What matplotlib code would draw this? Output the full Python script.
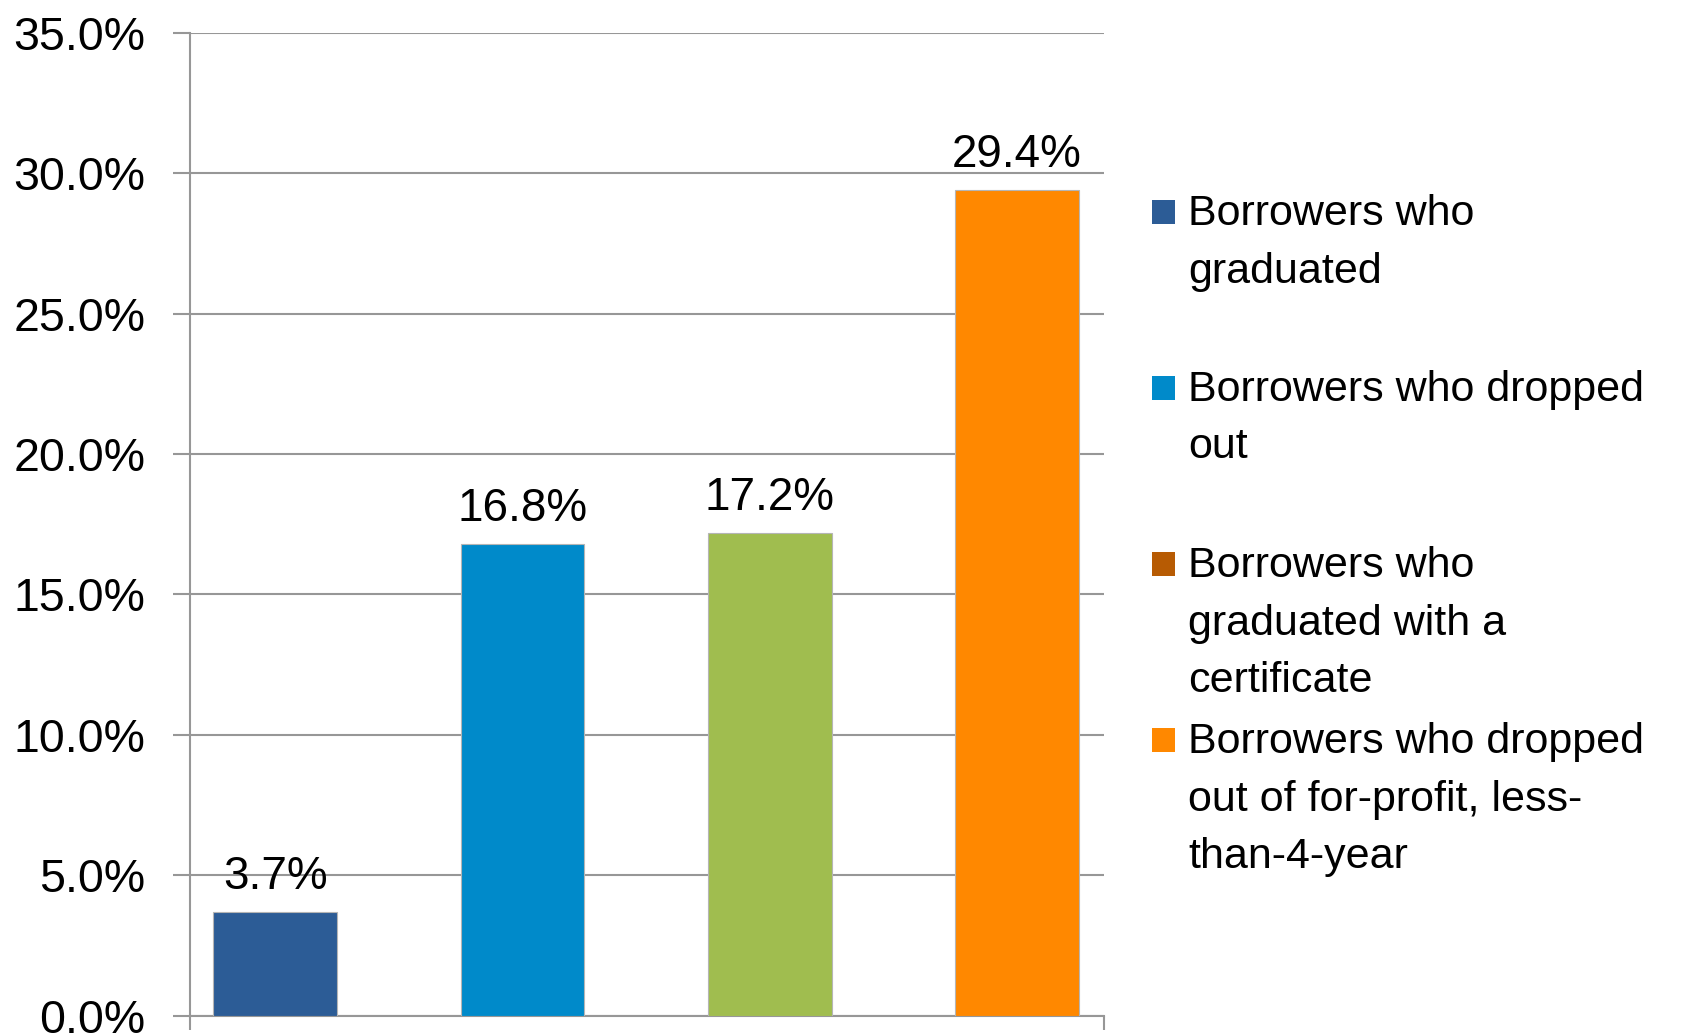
import numpy as np
import matplotlib
matplotlib.use("Agg")
import matplotlib.pyplot as plt
import matplotlib.patches as mpatches
import matplotlib.transforms as mtransforms
from matplotlib.ticker import MultipleLocator, FuncFormatter

plt.rcParams["font.family"] = ["Liberation Sans", "DejaVu Sans"]

GROUPS = [
    "Borrowers who\ngraduated",
    "Borrowers who dropped\nout",
    "Borrowers who\ngraduated with a\ncertificate",
    "Borrowers who dropped\nout of for-profit, less-\nthan-4-year",
]
RATES = [3.7, 16.8, 17.2, 29.4]
BAR_COLORS = ["#2C5C96", "#008ACA", "#A0BD4F", "#FF8800"]
LEGEND_COLORS = ["#2C5C96", "#008ACA", "#B75B03", "#FF8800"]
Y_TICKS = [0, 5, 10, 15, 20, 25, 30, 35]

W, H = 1700, 1034
GRID = "#979797"

fig = plt.figure(figsize=(W / 100, H / 100), dpi=100)
ax = fig.add_axes([190 / W, 1 - 1015.7 / H, (1104 - 190) / W, (1015.7 - 32.7) / H])

x = np.arange(len(RATES))
ax.bar(x, RATES, width=0.5, color=BAR_COLORS, edgecolor="#b5b5b5",
       linewidth=0.8, zorder=3)

for xi, v in zip(x, RATES):
    ax.annotate(f"{v:.1f}%", xy=(xi, v), xytext=(0, 16.5),
                textcoords="offset points", ha="center", va="baseline",
                fontsize=33)

ax.set_xlim(-0.345, 3.352)
ax.set_ylim(Y_TICKS[0], Y_TICKS[-1])
ax.set_yticks(Y_TICKS)
ax.yaxis.set_major_formatter(FuncFormatter(lambda v, _: f"{v:.1f}%"))
ax.grid(axis="y", color=GRID, linewidth=1.5, zorder=0)
ax.set_axisbelow(True)

for side in ("top", "right"):
    ax.spines[side].set_visible(False)
for side in ("left", "bottom"):
    ax.spines[side].set_color(GRID)
    ax.spines[side].set_linewidth(1.5)

# category-axis ticks only at the two ends
ax.set_xticks(ax.get_xlim())
ax.set_xticklabels([])
ax.tick_params(axis="x", length=10, width=1.5, color=GRID, direction="out")
ax.tick_params(axis="y", length=12.2, width=1.5, color=GRID, pad=20,
               labelsize=33.5)

# legend on the right, laid out in pixel coordinates from the top-left
pix = mtransforms.Affine2D().scale(1 / W, -1 / H).translate(0, 1) + fig.transFigure
for i, (label, color) in enumerate(zip(GROUPS, LEGEND_COLORS)):
    base = 225 + 176 * i
    fig.add_artist(mpatches.Rectangle((1152, base - 25.5), 23.5, 24.5,
                                      facecolor=color, edgecolor="none",
                                      transform=pix))
    for j, line in enumerate(label.split("\n")):
        fig.text(1188, base + j * 57.5, line, transform=pix, fontsize=31,
                 ha="left", va="baseline")

fig.savefig("out.png", dpi=100)
